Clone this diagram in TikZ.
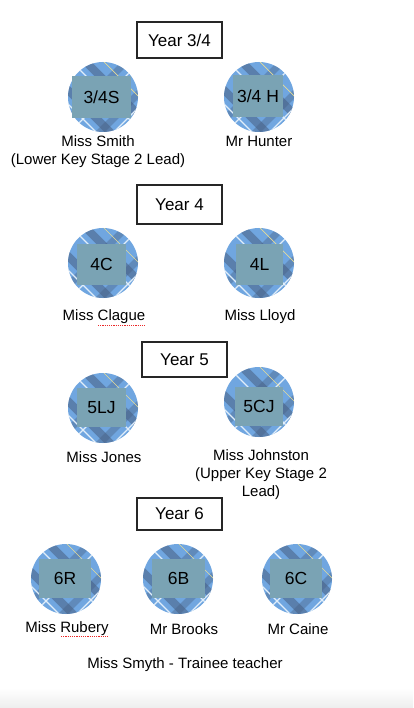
\documentclass[tikz,border=0pt]{standalone}
\usepackage{fontspec}
\setmainfont{Liberation Sans}
\definecolor{tartanbase}{RGB}{112,166,224}
\definecolor{tartandark}{RGB}{72,96,130}
\definecolor{tartanlight}{RGB}{225,238,250}
\definecolor{tartanyel}{RGB}{230,220,150}
\definecolor{labelbox}{RGB}{122,163,180}
\definecolor{spellred}{RGB}{235,40,40}
\tikzset{
  x=1pt, y=-1pt,
  yearbox/.style={draw=black!85, line width=1.3pt, fill=white, inner sep=0pt,
    font=\fontsize{17}{20}\selectfont},
  classcirc/.style={circle, minimum size=70pt, inner sep=0pt, fill=tartanbase},
  classlbl/.style={fill=labelbox, inner sep=0pt, font=\fontsize{17.5}{20}\selectfont},
  person/.style={inner sep=0pt, align=center, font=\fontsize{15}{18}\selectfont},
  spell/.style={spellred, dash pattern=on 1.2pt off 1pt, line width=1pt}
}
\newcommand\mkclass[8]{% name, cx, cy, label, rx, ry, w, h
  \node[classcirc] (#1) at (#2,#3) {};
  \begin{scope}[shift={(#2,#3)}]
    \clip (0,0) circle (35pt);
    \foreach \o in {-28,18} \draw[tartandark, opacity=.55, line width=8pt] ({\o-60},-60) -- ({\o+60},60);
    \foreach \o in {-12,32} \draw[tartandark, opacity=.4, line width=7pt] ({\o-60},60) -- ({\o+60},-60);
    \foreach \o in {4,-42} \draw[tartanlight, line width=1.1pt] ({\o-60},-60) -- ({\o+60},60);
    \foreach \o in {2,46} \draw[tartanlight, line width=1.1pt] ({\o-60},60) -- ({\o+60},-60);
    \draw[tartanyel, line width=.7pt] ({36-60},-60) -- ({36+60},60);
    \draw[tartanyel, line width=.7pt] ({-52-60},60) -- ({-52+60},-60);
  \end{scope}
  \node[classlbl, minimum width=#7pt, minimum height=#8pt] (#1l) at (#5,#6) {#4};
}
\begin{document}
\begin{tikzpicture}
\useasboundingbox (0,0) rectangle (413,708);
\fill[white] (0,0) rectangle (413,708);
\shade[top color=white, bottom color=black!7] (0,688) rectangle (413,708);

% Year 3/4
\node[yearbox, minimum width=85pt, minimum height=36pt] (y34) at (179.5,40) {Year 3/4};
\mkclass{c34s}{103}{97}{3/4S}{101.5}{97}{59}{42}
\mkclass{c34h}{259}{97}{3/4 H}{258}{96}{50}{42}
\node[person] (smith) at (98,152) {Miss Smith\\(Lower Key Stage 2 Lead)};
\node[person] (hunter) at (259,141) {Mr Hunter};

% Year 4
\node[yearbox, minimum width=85pt, minimum height=39pt] (y4) at (179.5,204.5) {Year 4};
\mkclass{c4c}{103}{263}{4C}{101.5}{264.5}{49}{41}
\mkclass{c4l}{259}{263}{4L}{259.5}{264.5}{47}{41}
\node[person] (clague) at (104,317) {Miss Clague};
\node[person] (lloyd) at (260,317) {Miss Lloyd};
\draw[spell] (98,325.5) -- (146,325.5);

% Year 5
\node[yearbox, minimum width=85pt, minimum height=35pt] (y5) at (184.5,359.5) {Year 5};
\mkclass{c5lj}{103}{408}{5LJ}{101.5}{407.5}{49}{39}
\mkclass{c5cj}{259}{402}{5CJ}{259}{406.5}{48}{39}
\node[person] (jones) at (104,457) {Miss Jones};
\node[person] (johnston) at (261,475) {Miss Johnston\\(Upper Key Stage 2\\Lead)};

% Year 6
\node[yearbox, minimum width=85pt, minimum height=32pt] (y6) at (179.5,514) {Year 6};
\mkclass{c6r}{66}{579}{6R}{65}{578.5}{52}{39}
\mkclass{c6b}{178}{579}{6B}{178.5}{578.5}{53}{39}
\mkclass{c6c}{297}{579}{6C}{296}{578.5}{52}{39}
\node[person] (rubery) at (67,629) {Miss Rubery};
\node[person] (brooks) at (184,629) {Mr Brooks};
\node[person] (caine) at (298,629) {Mr Caine};
\draw[spell] (61,636.5) -- (108,636.5);

\node[person] (smyth) at (185,665) {Miss Smyth - Trainee teacher};
\end{tikzpicture}
\end{document}
